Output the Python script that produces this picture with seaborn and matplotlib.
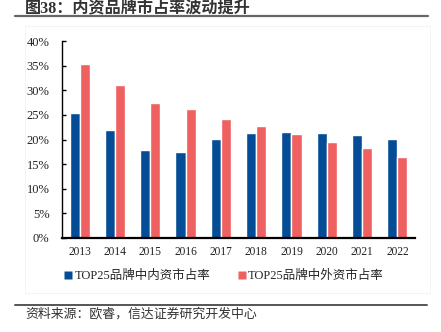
import matplotlib
matplotlib.use("Agg")
import matplotlib.pyplot as plt
from matplotlib.lines import Line2D
from matplotlib.patches import Rectangle
import seaborn as sns
import pandas as pd

years = ["2013", "2014", "2015", "2016", "2017", "2018", "2019", "2020", "2021", "2022"]
domestic = [25.3, 21.9, 17.8, 17.5, 20.1, 21.3, 21.5, 21.4, 21.0, 20.2]
foreign = [35.3, 31.0, 27.5, 26.1, 24.2, 22.7, 21.1, 19.4, 18.2, 16.4]
series_names = ["TOP25品牌中内资市占率", "TOP25品牌中外资市占率"]
y_ticks = [0, 5, 10, 15, 20, 25, 30, 35, 40]
title = "图38：内资品牌市占率波动提升"
source = "资料来源：欧睿，信达证券研究开发中心"

sns.set_style("ticks")
plt.rcParams["font.family"] = ["Liberation Serif", "Noto Sans CJK SC"]
plt.rcParams["axes.unicode_minus"] = False

df = pd.DataFrame({
    "year": years * 2,
    "share": domestic + foreign,
    "series": [series_names[0]] * len(years) + [series_names[1]] * len(years),
})

W, H = 441, 332
fig = plt.figure(figsize=(W / 100, H / 100), dpi=100)
ax = fig.add_axes([62 / W, 1 - 238 / H, 353 / W, 197 / H])

palette = {series_names[0]: "#044C96", series_names[1]: "#EF6060"}
sns.barplot(data=df, x="year", y="share", hue="series", palette=palette,
            width=0.57, saturation=1, ax=ax, legend=False)

ax.set_ylim(0, 40)
ax.set_xlim(-0.5, len(years) - 0.5)
ax.set_yticks(y_ticks)
ax.set_yticklabels([f"{t}%" for t in y_ticks])
ax.set_xlabel("")
ax.set_ylabel("")
for s in ["top", "right"]:
    ax.spines[s].set_visible(False)
ax.spines["left"].set_linewidth(1.0)
ax.spines["bottom"].set_linewidth(1.6)
ax.spines["left"].set_color("black")
ax.spines["bottom"].set_color("black")
ax.tick_params(axis="y", direction="in", length=3, width=1.0, pad=9,
               labelsize=9, colors="black")
ax.tick_params(axis="x", length=0, pad=6, labelsize=8.3, colors="black")
for lab in ax.get_xticklabels() + ax.get_yticklabels():
    lab.set_color("#222222")

# legend with small square markers
handles = [Line2D([0], [0], marker="s", color="none", markerfacecolor=palette[n],
                  markeredgecolor="none", markersize=5.5) for n in series_names]
fig.legend(handles, series_names, loc="center", bbox_to_anchor=(0.508, 1 - 276 / H),
           ncol=2, frameon=False, handlelength=0.6, handletextpad=0.2,
           columnspacing=2.2, prop={"size": 9})

# faint frame around the chart area
fig.add_artist(Rectangle((25 / W, 1 - 293 / H), 405 / W, 267 / H, transform=fig.transFigure,
                         fill=False, edgecolor="#f4f4f4", linewidth=0.8))

# title and rules
fig.text(25 / W, 1 - 8 / H, title, fontsize=11.6, fontweight="bold", color="#333333",
         ha="left", va="center")
fig.add_artist(Line2D([15 / W, 428 / W], [1 - 16 / H, 1 - 16 / H], transform=fig.transFigure,
                      color="#666666", linewidth=1.6))
fig.add_artist(Line2D([15 / W, 427 / W], [1 - 305 / H, 1 - 305 / H], transform=fig.transFigure,
                      color="#555555", linewidth=1.4))
fig.text(25 / W, 1 - 314 / H, source, fontsize=9.3, color="#333333", ha="left", va="center")

fig.savefig("out.png", dpi=100)
